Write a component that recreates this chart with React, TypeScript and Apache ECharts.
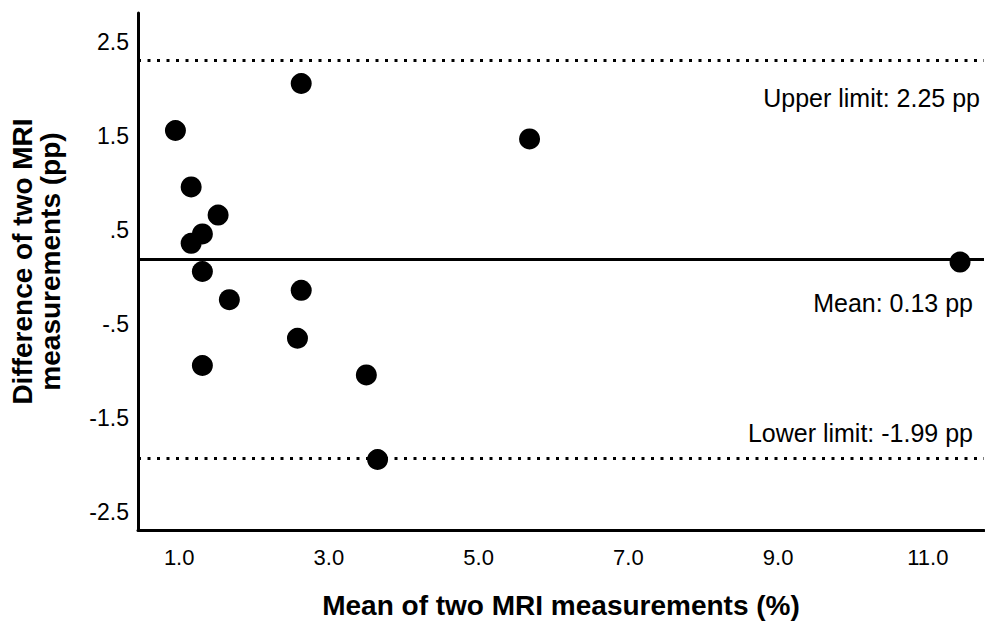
import React, { useEffect, useRef } from "react";
import * as echarts from "echarts";

// Mean of two MRI measurements (%)
const meanValues = [2.63, 0.95, 1.16, 1.52, 1.31, 1.16, 1.31, 1.67, 2.63, 2.58, 1.31, 3.5, 3.65, 5.68, 11.43];
// Difference of two MRI measurements (pp)
const diffValues = [2.0, 1.5, 0.9, 0.6, 0.4, 0.3, 0.0, -0.3, -0.2, -0.71, -1.0, -1.1, -2.0, 1.41, 0.1];

// Reference lines: upper limit, mean, lower limit
const limitValues = [2.25, 0.13, -1.99];
const limitLabels = ["Upper limit: 2.25 pp", "Mean: 0.13 pp", "Lower limit: -1.99 pp"];

const xTickLabels = ["1.0", "3.0", "5.0", "7.0", "9.0", "11.0"];
const yTickLabels = ["2.5", "1.5", ".5", "-.5", "-1.5", "-2.5"];

const FONT = 'Arial, "Liberation Sans", sans-serif';

function fmtY(v: number): string {
  const s = v.toFixed(1).replace(/^(-?)0\./, "$1.");
  return yTickLabels.includes(s) && Math.abs(v * 2 - Math.round(v * 2)) < 1e-6 ? s : "";
}
function fmtX(v: number): string {
  if (Math.abs(v - Math.round(v)) > 1e-6) return "";
  const s = Math.round(v).toFixed(1);
  return xTickLabels.includes(s) ? s : "";
}

export default function App() {
  const ref = useRef<HTMLDivElement>(null);
  useEffect(() => {
    if (!ref.current) return;
    const chart = echarts.init(ref.current, undefined, { renderer: "svg" });
    const dotted = [3, 6.5];
    const labelPos = ["insideEndBottom", "insideEndBottom", "insideEndTop"];
    const labelDist = [[4, 25], [11, 31], [11, 13]];
    chart.setOption({
      animation: false,
      backgroundColor: "#fff",
      grid: { left: 137.5, right: 1, top: 13, bottom: 95, containLabel: false },
      xAxis: {
        type: "value",
        min: 0.45,
        max: 11.75,
        interval: 0.05,
        name: "Mean of two MRI measurements (%)",
        nameLocation: "middle",
        nameGap: 61,
        nameTextStyle: { fontFamily: FONT, fontSize: 28, fontWeight: "bold", color: "#000" },
        axisLine: { show: true, onZero: false, lineStyle: { color: "#000", width: 3 } },
        axisTick: { show: false },
        splitLine: { show: false },
        axisLabel: {
          interval: 0,
          formatter: fmtX,
          fontFamily: FONT,
          fontSize: 22,
          color: "#000",
          margin: 16,
          showMinLabel: false,
          showMaxLabel: false,
        },
      },
      yAxis: {
        type: "value",
        min: -2.75,
        max: 2.75,
        interval: 0.25,
        name: "Difference of two MRI\nmeasurements (pp)",
        nameLocation: "middle",
        nameGap: 74,
        nameTextStyle: {
          fontFamily: FONT,
          fontSize: 28,
          fontWeight: "bold",
          color: "#000",
          lineHeight: 28,
          align: "center",
          padding: [0, 0, 0, 20],
        },
        axisLine: { show: true, onZero: false, lineStyle: { color: "#000", width: 3 } },
        axisTick: { show: false },
        splitLine: { show: false },
        axisLabel: {
          interval: 0,
          formatter: fmtY,
          fontFamily: FONT,
          fontSize: 23,
          color: "#000",
          margin: 9,
          verticalAlign: "top",
          lineHeight: 10,
          showMinLabel: false,
          showMaxLabel: false,
        },
      },
      series: [
        {
          type: "scatter",
          data: meanValues.map((x, i) => [x, diffValues[i]]),
          symbol: "circle",
          symbolSize: 21,
          itemStyle: { color: "#000", opacity: 1 },
          z: 5,
          markLine: {
            silent: true,
            symbol: "none",
            animation: false,
            data: limitValues.map((v, i) => ({
              yAxis: v,
              lineStyle: { color: "#000", width: 3, type: i === 1 ? "solid" : dotted, opacity: 1 },
              label: {
                show: true,
                position: labelPos[i],
                distance: labelDist[i],
                formatter: limitLabels[i],
                fontFamily: FONT,
                fontSize: 25,
                color: "#000",
              },
            })),
          },
        },
      ],
    });
    return () => chart.dispose();
  }, []);
  return (
    <div style={{ position: "fixed", left: 0, top: 0, width: 985, height: 625, background: "#fff" }}>
      <div ref={ref} style={{ width: 985, height: 625 }} />
    </div>
  );
}
